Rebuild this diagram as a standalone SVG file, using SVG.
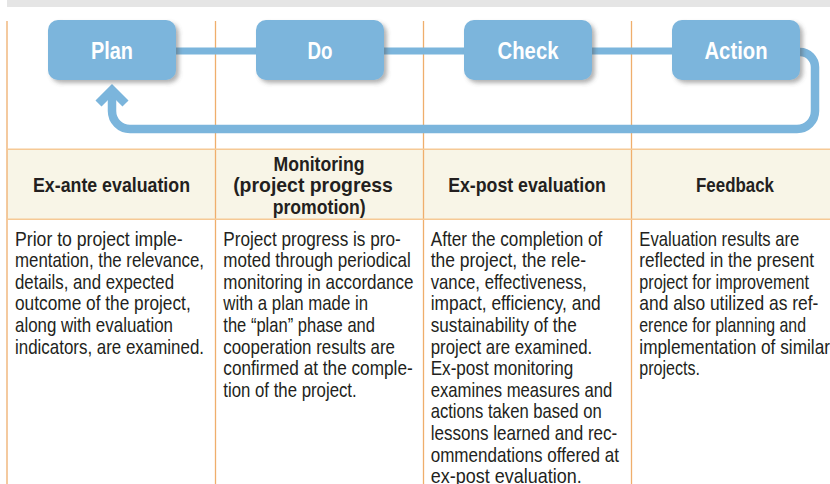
<svg xmlns="http://www.w3.org/2000/svg" width="830" height="484" viewBox="0 0 830 484">
<style>
.box{fill:#7bb5dc}
.lbl{font-family:"Liberation Sans Narrow","Liberation Sans",Arial,sans-serif;font-weight:bold;font-size:23.5px;fill:#ffffff;text-anchor:middle}
.hd{font-family:"Liberation Sans Narrow","Liberation Sans",Arial,sans-serif;font-weight:bold;font-size:21px;fill:#231f20;text-anchor:middle}
.bd{font-family:"Liberation Sans Narrow","Liberation Sans",Arial,sans-serif;font-size:21px;fill:#231f20}
.vl{stroke:#efae6c;stroke-width:1.3;fill:none}
.hl{stroke:#f6c995;stroke-width:1.6;fill:none}
.bar{stroke:#7bb5dc;fill:none}
</style>
<defs>
<filter id="sh" x="-10%" y="-10%" width="130%" height="140%">
<feDropShadow dx="3" dy="3" stdDeviation="2" flood-color="#555555" flood-opacity="0.45"/>
</filter>
</defs>
<rect width="830" height="484" fill="#ffffff"/>
<rect x="7" y="0" width="823" height="7" fill="#e5e5e5"/>
<rect x="7" y="149" width="823" height="70" fill="#f8f5e7"/>
<g id="grid">
<line class="vl" x1="7" y1="21" x2="7" y2="484"/>
<line class="vl" x1="215.5" y1="21" x2="215.5" y2="484"/>
<line class="vl" x1="423.5" y1="21" x2="423.5" y2="484"/>
<line class="vl" x1="631.5" y1="21" x2="631.5" y2="484"/>
<line class="hl" x1="7" y1="149.3" x2="830" y2="149.3"/>
<line class="hl" x1="7" y1="219.3" x2="830" y2="219.3"/>
</g>
<g id="connectors">
<line class="bar" x1="170" y1="51" x2="262" y2="51" stroke-width="7"/>
<line class="bar" x1="378" y1="51" x2="470" y2="51" stroke-width="7"/>
<line class="bar" x1="586" y1="51" x2="678" y2="51" stroke-width="7"/>
<path class="bar" d="M 794 52 H 800 A 15 15 0 0 1 815 67 V 111 A 18 18 0 0 1 797 129 H 130 A 18 18 0 0 1 112 111 V 92" stroke-width="8.5"/>
<polyline class="bar" points="98.5,103.5 112,90 125.5,103.5" stroke-width="8.5" stroke-linejoin="miter" stroke-miterlimit="10"/>
</g>
<g id="plan"><rect class="box" x="48" y="20" width="128" height="60" rx="10" filter="url(#sh)"/><text class="lbl" x="112" y="58.5" textLength="42" lengthAdjust="spacingAndGlyphs">Plan</text></g>
<g id="do"><rect class="box" x="256" y="20" width="128" height="60" rx="10" filter="url(#sh)"/><text class="lbl" x="320" y="58.5" textLength="25" lengthAdjust="spacingAndGlyphs">Do</text></g>
<g id="check"><rect class="box" x="464" y="20" width="128" height="60" rx="10" filter="url(#sh)"/><text class="lbl" x="528" y="58.5" textLength="61" lengthAdjust="spacingAndGlyphs">Check</text></g>
<g id="action"><rect class="box" x="672" y="20" width="128" height="60" rx="10" filter="url(#sh)"/><text class="lbl" x="736" y="58.5" textLength="63" lengthAdjust="spacingAndGlyphs">Action</text></g>
<g id="col-exante">
<text class="hd" x="111.5" y="191.5" textLength="157" lengthAdjust="spacingAndGlyphs">Ex-ante evaluation</text>
<text class="bd" x="15" y="245.5" textLength="167.7" lengthAdjust="spacingAndGlyphs">Prior to project imple-</text>
<text class="bd" x="15" y="267.1" textLength="189" lengthAdjust="spacingAndGlyphs">mentation, the relevance,</text>
<text class="bd" x="15" y="288.7" textLength="159" lengthAdjust="spacingAndGlyphs">details, and expected</text>
<text class="bd" x="15" y="310.3" textLength="175.7" lengthAdjust="spacingAndGlyphs">outcome of the project,</text>
<text class="bd" x="15" y="331.9" textLength="158" lengthAdjust="spacingAndGlyphs">along with evaluation</text>
<text class="bd" x="15" y="353.5" textLength="189" lengthAdjust="spacingAndGlyphs">indicators, are examined.</text>
</g>
<g id="col-monitoring">
<text class="hd" x="319" y="170.5" textLength="91" lengthAdjust="spacingAndGlyphs">Monitoring</text>
<text class="hd" x="313" y="192" textLength="159.7" lengthAdjust="spacingAndGlyphs">(project progress</text>
<text class="hd" x="319.2" y="213.5" textLength="93" lengthAdjust="spacingAndGlyphs">promotion)</text>
<text class="bd" x="223.3" y="245.5" textLength="177.4" lengthAdjust="spacingAndGlyphs">Project progress is pro-</text>
<text class="bd" x="223.3" y="267.1" textLength="187.4" lengthAdjust="spacingAndGlyphs">moted through periodical</text>
<text class="bd" x="223.3" y="288.7" textLength="190.2" lengthAdjust="spacingAndGlyphs">monitoring in accordance</text>
<text class="bd" x="223.3" y="310.3" textLength="144.7" lengthAdjust="spacingAndGlyphs">with a plan made in</text>
<text class="bd" x="223.3" y="331.9" textLength="151.7" lengthAdjust="spacingAndGlyphs">the “plan” phase and</text>
<text class="bd" x="223.3" y="353.5" textLength="171.7" lengthAdjust="spacingAndGlyphs">cooperation results are</text>
<text class="bd" x="223.3" y="375.1" textLength="189.4" lengthAdjust="spacingAndGlyphs">confirmed at the comple-</text>
<text class="bd" x="223.3" y="396.7" textLength="133.4" lengthAdjust="spacingAndGlyphs">tion of the project.</text>
</g>
<g id="col-expost">
<text class="hd" x="527" y="191.5" textLength="157.7" lengthAdjust="spacingAndGlyphs">Ex-post evaluation</text>
<text class="bd" x="430.7" y="245.5" textLength="171.6" lengthAdjust="spacingAndGlyphs">After the completion of</text>
<text class="bd" x="430.7" y="267.1" textLength="155.3" lengthAdjust="spacingAndGlyphs">the project, the rele-</text>
<text class="bd" x="430.7" y="288.7" textLength="156" lengthAdjust="spacingAndGlyphs">vance, effectiveness,</text>
<text class="bd" x="430.7" y="310.3" textLength="170" lengthAdjust="spacingAndGlyphs">impact, efficiency, and</text>
<text class="bd" x="430.7" y="331.9" textLength="146" lengthAdjust="spacingAndGlyphs">sustainability of the</text>
<text class="bd" x="430.7" y="353.5" textLength="161.6" lengthAdjust="spacingAndGlyphs">project are examined.</text>
<text class="bd" x="430.7" y="375.1" textLength="142.6" lengthAdjust="spacingAndGlyphs">Ex-post monitoring</text>
<text class="bd" x="430.7" y="396.7" textLength="181.6" lengthAdjust="spacingAndGlyphs">examines measures and</text>
<text class="bd" x="430.7" y="418.3" textLength="171" lengthAdjust="spacingAndGlyphs">actions taken based on</text>
<text class="bd" x="430.7" y="439.9" textLength="186.6" lengthAdjust="spacingAndGlyphs">lessons learned and rec-</text>
<text class="bd" x="430.7" y="461.5" textLength="188.3" lengthAdjust="spacingAndGlyphs">ommendations offered at</text>
<text class="bd" x="430.7" y="482.5" textLength="151" lengthAdjust="spacingAndGlyphs">ex-post evaluation.</text>
</g>
<g id="col-feedback">
<text class="hd" x="735" y="191.5" textLength="78" lengthAdjust="spacingAndGlyphs">Feedback</text>
<text class="bd" x="639.3" y="245.5" textLength="160" lengthAdjust="spacingAndGlyphs">Evaluation results are</text>
<text class="bd" x="639.3" y="267.1" textLength="174.7" lengthAdjust="spacingAndGlyphs">reflected in the present</text>
<text class="bd" x="639.3" y="288.7" textLength="169.7" lengthAdjust="spacingAndGlyphs">project for improvement</text>
<text class="bd" x="639.3" y="310.3" textLength="179" lengthAdjust="spacingAndGlyphs">and also utilized as ref-</text>
<text class="bd" x="639.3" y="331.9" textLength="166.7" lengthAdjust="spacingAndGlyphs">erence for planning and</text>
<text class="bd" x="639.3" y="353.5" textLength="190.7" lengthAdjust="spacingAndGlyphs">implementation of similar</text>
<text class="bd" x="639.3" y="375.1" textLength="60.7" lengthAdjust="spacingAndGlyphs">projects.</text>
</g>
</svg>
